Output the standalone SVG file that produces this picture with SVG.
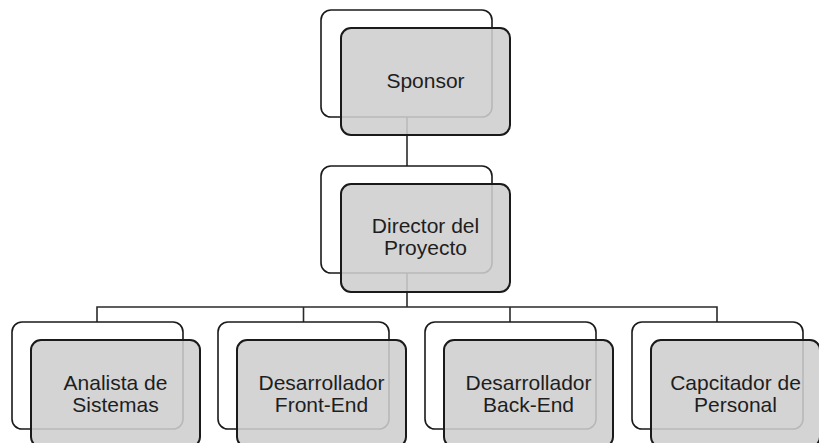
<svg xmlns="http://www.w3.org/2000/svg" width="819" height="443" viewBox="0 0 819 443">
  <style>
    .back { fill: #ffffff; stroke: #1a1a1a; stroke-width: 1.6; }
    .front { fill: #cecece; fill-opacity: 0.88; stroke: #1a1a1a; stroke-width: 2; }
    .conn { fill: none; stroke: #2a2a2a; stroke-width: 1.6; }
    .label { font-family: "Liberation Sans", Arial, sans-serif; font-size: 21px; fill: #1e1e1e; text-anchor: middle; }
  </style>
  <rect width="819" height="443" fill="#ffffff"/>

  <!-- connectors (drawn beneath the node cards) -->
  <g id="connectors">
    <path class="conn" d="M407,117 V166"/>
    <path class="conn" d="M407,273 V307"/>
    <path class="conn" d="M97,322 V307 H717 V322"/>
    <path class="conn" d="M303.5,307 V322"/>
    <path class="conn" d="M510,307 V322"/>
  </g>

  <g id="sponsor">
    <rect class="back" x="321" y="10" width="171" height="107" rx="10"/>
    <rect class="front" x="341" y="28" width="169" height="107" rx="10"/>
    <text class="label" x="425.5" y="88">Sponsor</text>
  </g>

  <g id="director">
    <rect class="back" x="321" y="166" width="171" height="107" rx="10"/>
    <rect class="front" x="341" y="184" width="169" height="108" rx="10"/>
    <text class="label" x="425.5" y="233">Director del</text>
    <text class="label" x="425.5" y="255">Proyecto</text>
  </g>

  <g id="analista">
    <rect class="back" x="12" y="322" width="171" height="107" rx="10"/>
    <rect class="front" x="31" y="340" width="169" height="107" rx="10"/>
    <text class="label" x="115.5" y="390">Analista de</text>
    <text class="label" x="115.5" y="412">Sistemas</text>
  </g>

  <g id="frontend">
    <rect class="back" x="218" y="322" width="171" height="107" rx="10"/>
    <rect class="front" x="237" y="340" width="169" height="107" rx="10"/>
    <text class="label" x="321.5" y="390">Desarrollador</text>
    <text class="label" x="321.5" y="412">Front-End</text>
  </g>

  <g id="backend">
    <rect class="back" x="425" y="322" width="171" height="107" rx="10"/>
    <rect class="front" x="444" y="340" width="169" height="107" rx="10"/>
    <text class="label" x="528.5" y="390">Desarrollador</text>
    <text class="label" x="528.5" y="412">Back-End</text>
  </g>

  <g id="capacitador">
    <rect class="back" x="632" y="322" width="171" height="107" rx="10"/>
    <rect class="front" x="651" y="340" width="169" height="107" rx="10"/>
    <text class="label" x="735.5" y="390">Capcitador de</text>
    <text class="label" x="735.5" y="412">Personal</text>
  </g>
</svg>
